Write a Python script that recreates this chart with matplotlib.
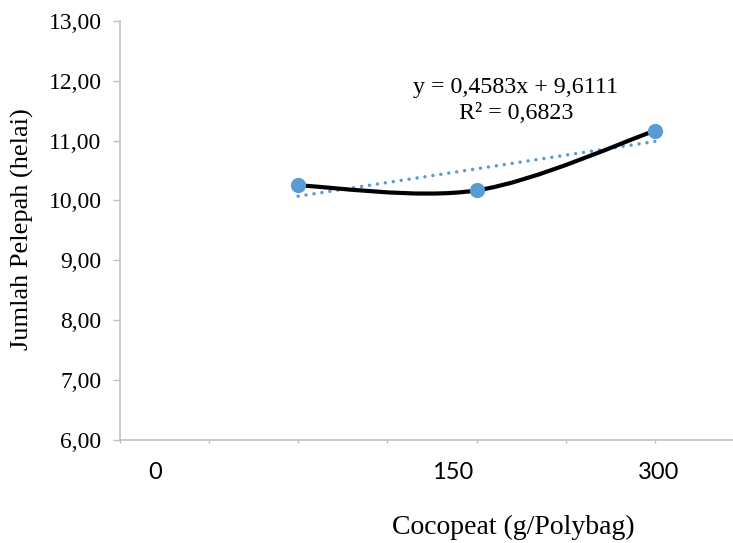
import numpy as np
import matplotlib
matplotlib.use("Agg")
import matplotlib.pyplot as plt
from matplotlib.path import Path
from matplotlib.patches import PathPatch

# ---- data ----
x_vals = [1, 2, 3]
y_vals = [10.25, 10.1667, 11.1667]
x_tick_labels = ["0", "150", "300"]
x_tick_label_pos = [0.2, 1.865, 3.02]
y_ticks = [6, 7, 8, 9, 10, 11, 12, 13]
eq_text = "y = 0,4583x + 9,6111"
r2_text = "R² = 0,6823"
x_title = "Cocopeat (g/Polybag)"
y_title = "Jumlah Pelepah (helai)"

W, H = 733, 543
fig = plt.figure(figsize=(W / 100, H / 100), dpi=100)
left, right, bottom, top = 119.5, 733, 439.5, 21
ax = fig.add_axes([left / W, 1 - bottom / H, (right - left) / W, (bottom - top) / H])

xmax = (right - left) / 178.6
ax.set_xlim(0, xmax)
ax.set_ylim(6, 13)

blue = "#5B9BD5"
grey = "#BFBFBF"
serif = ["Liberation Serif", "DejaVu Serif"]

# Excel-like smoothed line (Catmull-Rom -> cubic Bezier)
P = np.column_stack([x_vals, y_vals]).astype(float)
n = len(P)
verts = [tuple(P[0])]
codes = [Path.MOVETO]
for i in range(n - 1):
    p_prev = P[max(i - 1, 0)]
    p0 = P[i]
    p1 = P[i + 1]
    p_next = P[min(i + 2, n - 1)]
    c1 = p0 + (p1 - p_prev) / 6.0
    c2 = p1 - (p_next - p0) / 6.0
    verts += [tuple(c1), tuple(c2), tuple(p1)]
    codes += [Path.CURVE4] * 3
ax.add_patch(PathPatch(Path(verts, codes), facecolor="none", edgecolor="black",
                       lw=3.0, capstyle="round", joinstyle="round", zorder=3))

# linear trendline
slope, intercept = np.polyfit(x_vals, y_vals, 1)
xt = np.array([x_vals[0], x_vals[-1]], dtype=float)
ax.plot(xt, slope * xt + intercept, color=blue, lw=2.5, linestyle=(0, (0.01, 2.3)),
        dash_capstyle="round", zorder=2)

ax.plot(x_vals, y_vals, linestyle="none", marker="o", ms=11, color=blue,
        markeredgewidth=0, zorder=4)

# axes styling
for s in ["top", "right"]:
    ax.spines[s].set_visible(False)
for s in ["left", "bottom"]:
    ax.spines[s].set_color(grey)
    ax.spines[s].set_linewidth(1.1)

ax.set_yticks(y_ticks)
ax.set_yticklabels([f"{v:.2f}".replace(".", ",") for v in y_ticks],
                   fontfamily=serif, fontsize=17)
ax.tick_params(axis="y", which="major", length=5, width=1.0, color=grey, pad=8,
               labelcolor="black")

ax.set_xticks(np.arange(0, xmax, 0.5), minor=True)
ax.tick_params(axis="x", which="minor", length=2.5, width=1.0, color=grey)
ax.set_xticks(x_tick_label_pos)
ax.set_xticklabels(x_tick_labels, fontfamily=["Lato", "DejaVu Sans"], fontsize=17)
ax.tick_params(axis="x", which="major", length=0, pad=16, labelcolor="black")

ax.text(2.22, 11.895, eq_text, ha="center", va="center", fontfamily=serif, fontsize=17.3)
ax.text(2.22, 11.46, r2_text, ha="center", va="center", fontfamily=serif, fontsize=17.3)

fig.text(513 / W, 1 - 527 / H, x_title, ha="center", va="center",
         fontfamily=serif, fontsize=20)
fig.text(22 / W, 1 - 229 / H, y_title, ha="center", va="center", rotation=90,
         fontfamily=serif, fontsize=19)

fig.savefig("out.png", dpi=100)
